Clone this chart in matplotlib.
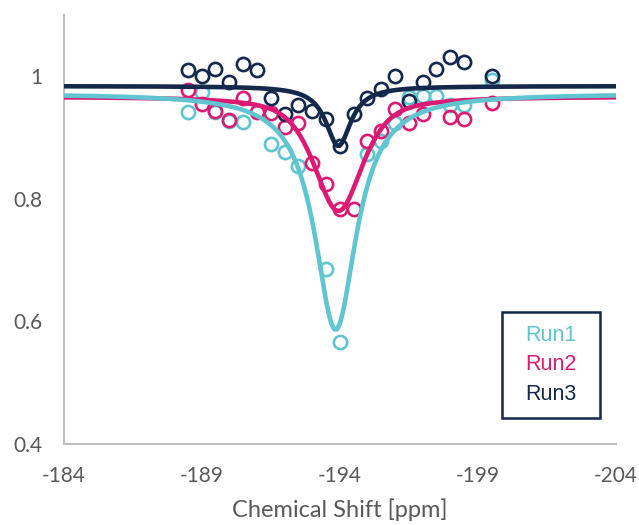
import numpy as np
import matplotlib.pyplot as plt
from matplotlib.patches import Rectangle

plt.rcParams['font.family'] = ['Lato', 'DejaVu Sans']
plt.rcParams['axes.unicode_minus'] = False

# chemical shift of each measured point [ppm]
shift = [-188.5, -189.0, -189.5, -190.0, -190.5, -191.0, -191.5, -192.0,
         -192.5, -193.0, -193.5, -194.0, -194.5, -195.0, -195.5, -196.0,
         -196.5, -197.0, -197.5, -198.0, -198.5, -199.0, -199.5]

nan = np.nan
run1 = [0.941, 0.974, 0.941, 0.927, 0.925, nan, 0.890, 0.876,
        0.853, nan, 0.685, 0.567, nan, 0.873, 0.895, 0.924,
        0.966, 0.968, 0.968, 0.953, 0.953, nan, 0.994]
run2 = [0.977, 0.954, 0.943, 0.928, 0.964, 0.941, 0.940, 0.917,
        0.923, 0.858, 0.824, 0.784, 0.783, 0.894, 0.911, 0.946,
        0.924, 0.938, nan, 0.933, 0.930, nan, 0.957]
run3 = [1.010, 1.001, 1.012, 0.990, 1.020, 1.010, 0.965, 0.939,
        0.953, 0.943, 0.931, 0.887, 0.938, 0.965, 0.979, 1.000,
        0.960, 0.990, 1.012, 1.031, 1.023, nan, 1.001]

# fitted line shape: baseline, depth, centre, half width, lorentzian fraction
fit1 = dict(base=0.972, depth=0.386, x0=-193.85, hw=0.92, eta=1.0)
fit2 = dict(base=0.967, depth=0.187, x0=-193.95, hw=1.05, eta=0.65)
fit3 = dict(base=0.984, depth=0.098, x0=-193.95, hw=0.55, eta=1.0)

labels = ['Run1', 'Run2', 'Run3']
colors = ['#5fc6d1', '#dc1a73', '#14284b']


def pseudo_voigt(x, base, depth, x0, hw, eta):
    u = ((x - x0) / hw) ** 2
    lor = 1.0 / (1.0 + u)
    gau = np.exp(-np.log(2) * u)
    return base - depth * (eta * lor + (1 - eta) * gau)


xfit = np.arange(-184.0, -204.001, -0.1)

fig = plt.figure(figsize=(6.39, 5.25), dpi=100)
ax = fig.add_axes([0.0994, 0.1543, 0.8646, 0.8171])

for vals, c in zip([run1, run2, run3], colors):
    ax.plot(shift, vals, linestyle='none', marker='o', markersize=9.5,
            markerfacecolor='none', markeredgecolor=c, markeredgewidth=1.9, zorder=2)

# pink first so the cyan fit sits on top of it
for fit, c in [(fit2, colors[1]), (fit1, colors[0]), (fit3, colors[2])]:
    ax.plot(xfit, pseudo_voigt(xfit, **fit), color=c, linewidth=3.3,
            solid_capstyle='round', zorder=3)

ax.set_xlim(-184, -204)
ax.set_ylim(0.4, 1.1)
ax.set_xticks([-184, -189, -194, -199, -204])
ax.set_yticks([0.4, 0.6, 0.8, 1.0])
ax.set_yticklabels(['0.4', '0.6', '0.8', '1'])

for side in ['top', 'right']:
    ax.spines[side].set_visible(False)
for side in ['left', 'bottom']:
    ax.spines[side].set_color('#bfbfbf')
    ax.spines[side].set_linewidth(1.5)

ax.tick_params(axis='both', length=0, labelsize=15, labelcolor='#595959')
ax.tick_params(axis='x', pad=16)
ax.tick_params(axis='y', pad=15)
ax.set_xlabel('Chemical Shift [ppm]', fontsize=17, color='#595959', labelpad=9)

# legend box with coloured run names
ax.add_patch(Rectangle((0.794, 0.06), 0.177, 0.248, transform=ax.transAxes,
                       facecolor='white', edgecolor=colors[2], linewidth=1.8, zorder=5))
for i, (lab, c) in enumerate(zip(labels, colors)):
    ax.text(0.8825, 0.254 - i * 0.069, lab, transform=ax.transAxes, color=c,
            fontsize=15.5, family=['Liberation Sans', 'DejaVu Sans'],
            ha='center', va='center', zorder=6)

fig.savefig('out.png', dpi=100)
